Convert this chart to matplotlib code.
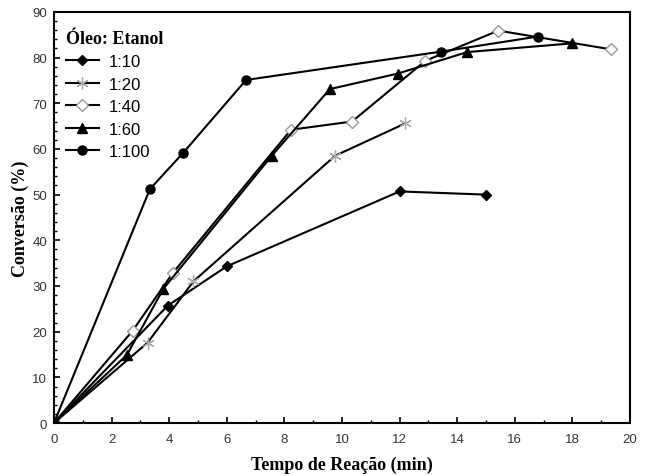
import numpy as np
import matplotlib.pyplot as plt
from matplotlib.ticker import MultipleLocator

# dados
t_10 = [0, 3.95, 6.0, 12.0, 15.0]
c_10 = [0, 25.7, 34.3, 50.7, 50.0]

t_20 = [0, 3.25, 4.84, 9.76, 12.2]
c_20 = [0, 17.6, 31.0, 58.5, 65.6]

t_40 = [0, 2.73, 4.12, 8.23, 10.35, 12.9, 15.43, 19.34]
c_40 = [0, 20.2, 32.8, 64.2, 66.0, 79.3, 85.9, 81.8]

t_60 = [0, 2.53, 3.8, 7.56, 9.58, 11.94, 14.35, 17.97]
c_60 = [0, 14.9, 29.4, 58.5, 73.1, 76.5, 81.2, 83.1]

t_100 = [0, 3.33, 4.48, 6.67, 13.44, 16.8]
c_100 = [0, 51.2, 59.1, 75.1, 81.3, 84.6]

fig = plt.figure(figsize=(6.45, 4.77), dpi=100)
ax = fig.add_axes([0.0837, 0.111, 0.893, 0.862])

ax.plot(t_10, c_10, '-', color='black', lw=1.5, marker='D', ms=5.5, mfc='black', label='1:10')
ax.plot(t_20, c_20, '-', color='black', lw=1.5, marker=(6, 2, 0), ms=9, mec='#aaaaaa', mew=0.9, label='1:20')
ax.plot(t_40, c_40, '-', color='black', lw=1.5, marker='D', ms=6, mfc='white', mec='#999999', mew=1.0, label='1:40')
ax.plot(t_60, c_60, '-', color='black', lw=1.5, marker='^', ms=6.5, mfc='black', label='1:60')
ax.plot(t_100, c_100, '-', color='black', lw=1.5, marker='o', ms=6.5, mfc='black', label='1:100')

ax.set_xlim(0, 20)
ax.set_ylim(0, 90)
ax.xaxis.set_major_locator(MultipleLocator(2))
ax.xaxis.set_minor_locator(MultipleLocator(1))
ax.yaxis.set_major_locator(MultipleLocator(10))
ax.yaxis.set_minor_locator(MultipleLocator(2))
ax.tick_params(which='both', direction='in', top=False, right=False, labelsize=9.5)
ax.tick_params(which='major', length=4, width=1.2)
ax.tick_params(which='minor', length=2.5, width=1)
ax.tick_params(axis='x', pad=7)
ax.tick_params(axis='y', pad=5)
for lab in ax.get_xticklabels() + ax.get_yticklabels():
    lab.set_family('Liberation Sans')
    lab.set_color('#333333')
for s in ax.spines.values():
    s.set_linewidth(1.5)

ax.set_xlabel('Tempo de Reação (min)', family='Liberation Serif', fontweight='bold', fontsize=13, labelpad=8)
ax.set_ylabel('Conversão (%)', family='Liberation Serif', fontweight='bold', fontsize=13, labelpad=2)

leg = ax.legend(loc='upper left', frameon=False, title='Óleo: Etanol',
                prop={'family': 'Liberation Sans', 'size': 12},
                handlelength=2.0, handletextpad=0.6, labelspacing=0.45,
                borderaxespad=0.3, bbox_to_anchor=(0.0, 0.985))
leg.get_title().set_fontfamily('Liberation Serif')
leg.get_title().set_fontweight('bold')
leg.get_title().set_fontsize(13)
leg._legend_box.align = 'left'

plt.savefig('out.png', dpi=100)
